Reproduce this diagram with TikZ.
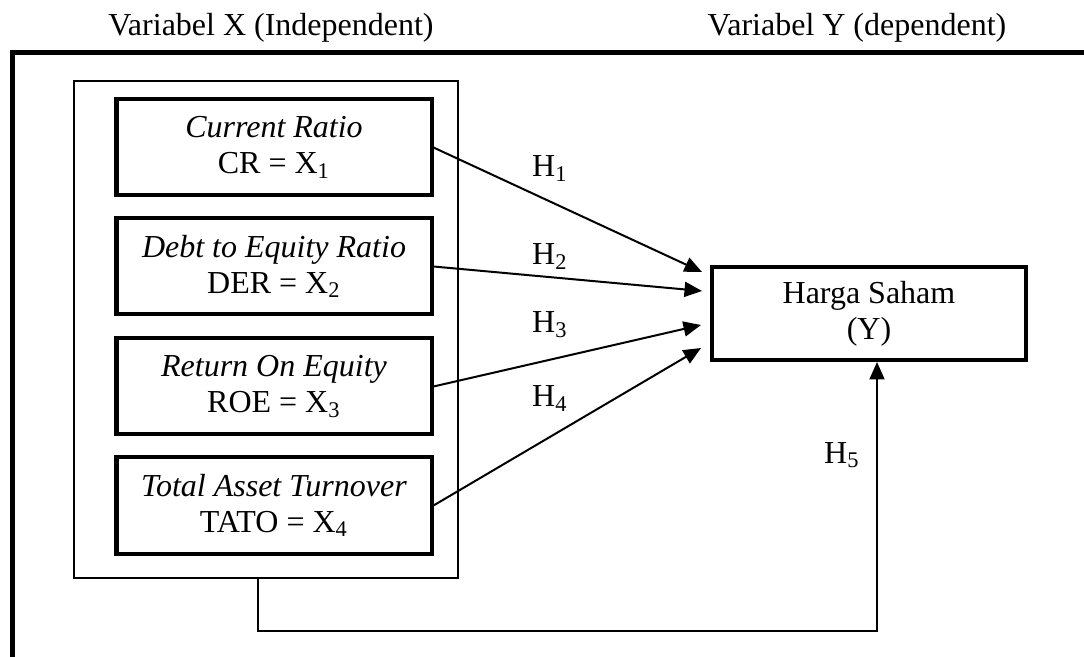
\documentclass[tikz,border=0pt]{standalone}
\usepackage{fontspec}
\setmainfont{Liberation Serif}
\usetikzlibrary{arrows.meta,calc}
\tikzset{
  varbox/.style={draw, line width=1.6pt, minimum width=126pt, minimum height=38.4pt, align=center, inner sep=0pt},
  grpbox/.style={draw, line width=0.8pt, minimum width=153.6pt, minimum height=198.8pt, inner sep=0pt},
  ybox/.style={draw, line width=1.6pt, minimum width=125.6pt, minimum height=37.2pt, align=center, inner sep=0pt},
  arr/.style={line width=0.8pt, -{Triangle[length=7pt,width=6pt]}},
  lbl/.style={anchor=base, inner sep=0pt},
  frame/.style={line width=2pt, line join=miter}
}
\begin{document}
\begin{tikzpicture}[x=0.4pt, y=-0.4pt, font=\fontsize{12.8}{14.4}\selectfont]
\useasboundingbox (0,0) rectangle (1084,657);
% outer frame (only top and left sides visible)
\draw[frame] (12.5,657) -- (12.5,52.5) -- (1084,52.5);
% headings
\node[lbl] (hx) at (271,36) {Variabel X (Independent)};
\node[lbl] (hy) at (857,36) {Variabel Y (dependent)};
% group box
\node[grpbox] (grp) at (266,329.5) {};
% variable boxes
\node[varbox] (cr)   at (274,147.5) {\textit{Current Ratio}\\CR = X\textsubscript{1}};
\node[varbox] (der)  at (274,266.5) {\textit{Debt to Equity Ratio}\\DER = X\textsubscript{2}};
\node[varbox] (roe)  at (274,386.5) {\textit{Return On Equity}\\ROE = X\textsubscript{3}};
\node[varbox] (tato) at (274,505.5) {\textit{Total Asset Turnover}\\TATO = X\textsubscript{4}};
% dependent box
\node[ybox] (hs) at (869,313.5) {Harga Saham\\(Y)};
% arrow targets
\coordinate (t1) at (702,272);
\coordinate (t2) at (702,291);
\coordinate (t3) at (701,325);
\coordinate (t4) at (701,348);
\draw[arr] (cr.east) -- (t1);
\draw[arr] (der.east) -- (t2);
\draw[arr] (roe.east) -- (t3);
\draw[arr] (tato.east) -- (t4);
\draw[arr] ($(grp.south)+(-8,0)$) -- ++(0,52) -| ($(hs.south)+(8,0)$);
% hypothesis labels
\node[lbl] (h1) at (550,177) {H\textsubscript{1}};
\node[lbl] (h2) at (550,265) {H\textsubscript{2}};
\node[lbl] (h3) at (550,333) {H\textsubscript{3}};
\node[lbl] (h4) at (550,407) {H\textsubscript{4}};
\node[lbl] (h5) at (842,463) {H\textsubscript{5}};
\end{tikzpicture}
\end{document}
